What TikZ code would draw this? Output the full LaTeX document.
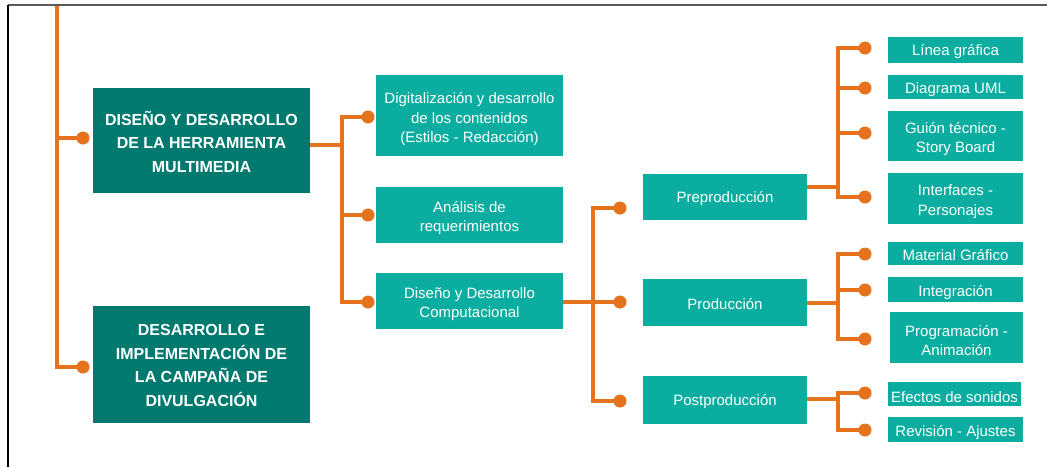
\documentclass[tikz,border=0pt]{standalone}
\usepackage{fontspec}
\setmainfont{Liberation Sans}
\definecolor{darkteal}{RGB}{0,122,111}
\definecolor{lightteal}{RGB}{11,173,160}
\definecolor{branch}{RGB}{229,115,30}
\definecolor{framegray}{RGB}{90,90,90}
% #1 name, #2 kind (main/sub), #3 width, #4 height, #5 x, #6 y, #7 text offset, #8 text
\newcommand\mybox[8]{%
  \node[#2box, minimum width=#3pt, minimum height=#4pt] (#1) at (#5,#6) {};
  \node[#2text, yshift=#7pt] (#1-t) at (#1.center) {#8};}
\begin{document}
\begin{tikzpicture}[x=1pt,y=-1pt,
  conn/.style={draw=branch, line width=3.2pt},
  dot/.style={circle, fill=branch, inner sep=0pt, minimum size=13pt},
  mainbox/.style={fill=darkteal, inner sep=0pt},
  subbox/.style={fill=lightteal, inner sep=0pt},
  maintext/.style={text=white, inner sep=0pt, align=center,
    font=\fontsize{16}{23.5}\selectfont\bfseries},
  subtext/.style={text=white, inner sep=0pt, align=center,
    font=\fontsize{15}{19.5}\selectfont}
]
\useasboundingbox (0,0) rectangle (1047,467);

% frame
\draw[framegray, line width=1.2pt] (8,5) -- (1047,5);
\draw[black, line width=1.2pt] (8,5) -- (8,467);

% level 1
\mybox{b1}{main}{217}{105}{201.5}{140.5}{-1}{DISEÑO Y DESARROLLO\\DE LA HERRAMIENTA\\MULTIMEDIA}
\mybox{b2}{main}{217}{117}{201.5}{364.5}{-1}{DESARROLLO E\\IMPLEMENTACIÓN DE\\LA CAMPAÑA DE\\DIVULGACIÓN}

% level 2
\mybox{dig}{sub}{187}{81}{469.5}{115.5}{-4}{Digitalización y desarrollo\\de los contenidos\\(Estilos - Redacción)}
\mybox{ana}{sub}{187}{56}{469.5}{215}{-3}{Análisis de\\requerimientos}
\mybox{ddc}{sub}{187}{56}{469.5}{301}{-3}{Diseño y Desarrollo\\Computacional}

% level 3
\mybox{pre}{sub}{164}{46}{725}{197}{-2}{Preproducción}
\mybox{pro}{sub}{164}{47}{725}{302.5}{-2}{Producción}
\mybox{pos}{sub}{164}{48}{725}{400}{-2}{Postproducción}

% level 4
\mybox{lin}{sub}{135}{26}{955.5}{50}{-2}{Línea gráfica}
\mybox{uml}{sub}{135}{24}{955.5}{87}{-3}{Diagrama UML}
\mybox{gui}{sub}{135}{50}{955.5}{136}{-3}{Guión técnico -\\Story Board}
\mybox{int}{sub}{135}{51}{955.5}{198.5}{-3}{Interfaces -\\Personajes}
\mybox{mat}{sub}{135}{23}{955.5}{253.5}{-2}{Material Gráfico}
\mybox{ite}{sub}{135}{25}{955.5}{289.5}{-3}{Integración}
\mybox{prg}{sub}{133}{51}{956.5}{337.5}{-3}{Programación -\\Animación}
\mybox{efe}{sub}{133}{24}{954.5}{394}{-3}{Efectos de sonidos}
\mybox{rev}{sub}{135}{25}{955.5}{429.5}{-3}{Revisión - Ajustes}

% junctions and dot positions
\coordinate (top) at (57,6);
\coordinate (d1a) at (83,138);
\coordinate (d1b) at (83,367);
\coordinate (j1) at (342,145);
\coordinate (d2a) at (368,117);
\coordinate (d2b) at (368,215);
\coordinate (d2c) at (368,302);
\coordinate (j2) at (593,302);
\coordinate (d3a) at (620,208);
\coordinate (d3b) at (620,302);
\coordinate (d3c) at (620,401);
\coordinate (j3) at (838,187);
\coordinate (j4) at (838,303);
\coordinate (j5) at (838,399);
\coordinate (e1) at (865,48);
\coordinate (e2) at (865,88);
\coordinate (e3) at (865,133);
\coordinate (e4) at (865,197);
\coordinate (e5) at (865,254);
\coordinate (e6) at (865,290);
\coordinate (e7) at (865,339);
\coordinate (e8) at (865,393);
\coordinate (e9) at (865,430);

% connectors
\draw[conn] (top) |- (d1b);
\draw[conn] (top |- d1a) -- (d1a);

\draw[conn] (b1.east |- j1) -- (j1);
\draw[conn] (d2a) -| (j1) |- (d2c);
\draw[conn] (j1 |- d2b) -- (d2b);

\draw[conn] (ddc.east |- j2) -- (j2);
\draw[conn] (d3a) -| (j2) |- (d3c);
\draw[conn] (j2) -- (d3b);

\draw[conn] (pre.east |- j3) -- (j3);
\draw[conn] (e1) -| (j3) |- (e4);
\draw[conn] (j3 |- e2) -- (e2);
\draw[conn] (j3 |- e3) -- (e3);

\draw[conn] (pro.east |- j4) -- (j4);
\draw[conn] (e5) -| (j4) |- (e7);
\draw[conn] (j4 |- e6) -- (e6);

\draw[conn] (pos.east |- j5) -- (j5);
\draw[conn] (e8) -| (j5) |- (e9);

% dots
\foreach \p in {d1a,d1b,d2a,d2b,d2c,d3a,d3b,d3c,e1,e2,e3,e4,e5,e6,e7,e8,e9}
  \node[dot] at (\p) {};
\end{tikzpicture}
\end{document}
